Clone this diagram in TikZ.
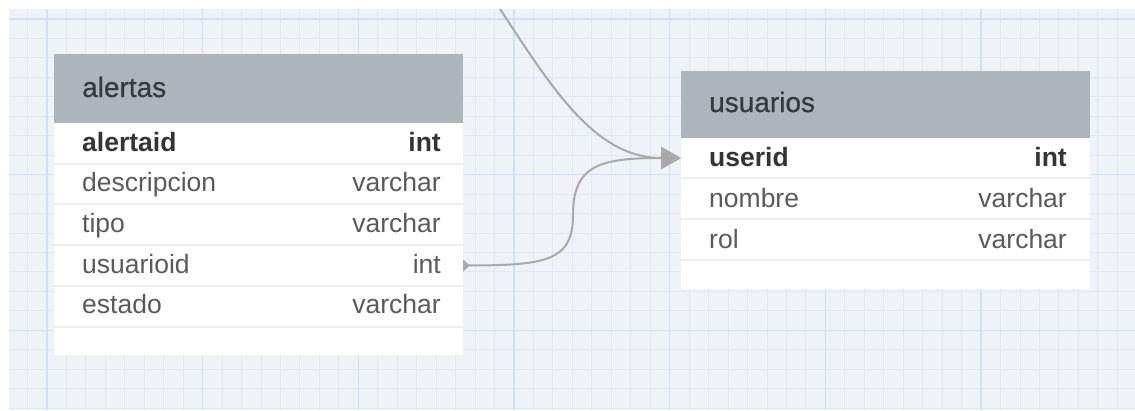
\documentclass[tikz,border=0pt]{standalone}
\usepackage{fontspec}
\setmainfont{Liberation Sans}
\newfontface\hdrface{Liberation Sans}[FakeBold=0.7]
\usetikzlibrary{arrows.meta}
\definecolor{bggrid}{HTML}{EFF2F6}
\definecolor{minorline}{HTML}{E2E8F1}
\definecolor{majorline}{HTML}{D3DFF2}
\definecolor{hdrgray}{HTML}{ADB4BB}
\definecolor{hdrtext}{HTML}{343A40}
\definecolor{boldtext}{HTML}{343434}
\definecolor{regtext}{HTML}{5A5A5A}
\definecolor{sepgray}{HTML}{ECEEF0}
\definecolor{linkgray}{HTML}{A9A9A9}
\tikzset{
  hdrbox/.style={fill=hdrgray, minimum width=409pt, inner sep=0pt, outer sep=0pt},
  rowbox/.style={fill=white, minimum width=409pt, inner sep=0pt, outer sep=0pt},
  hdrlabel/.style={anchor=base west, inner sep=0pt, text=hdrtext, font=\hdrface\fontsize{28}{32}\selectfont},
  keyname/.style={anchor=base west, inner sep=0pt, text=boldtext, font=\fontsize{26.5}{30}\selectfont\bfseries},
  keytype/.style={anchor=base east, inner sep=0pt, text=boldtext, font=\fontsize{26.5}{30}\selectfont\bfseries},
  colname/.style={anchor=base west, inner sep=0pt, text=regtext, font=\fontsize{26.5}{30}\selectfont},
  coltype/.style={anchor=base east, inner sep=0pt, text=regtext, font=\fontsize{26.5}{30}\selectfont},
  sepline/.style={draw=sepgray, line width=1.6pt},
  link/.style={draw=linkgray, line width=2pt},
  minorgrid/.style={draw=minorline, line width=1pt},
  majorgrid/.style={draw=majorline, line width=1.3pt},
}
\begin{document}
\begin{tikzpicture}[x=1pt,y=-1pt]
\useasboundingbox (0,0) rectangle (1135,410);
\fill[white] (0,0) rectangle (1135,410);
% grid background
\begin{scope}
\clip (9,9) rectangle (1135,410);
\fill[bggrid] (9,9) rectangle (1135,410);
\foreach \i in {-2,...,56} {
  \pgfmathsetmacro\xx{47+19.46*\i}
  \draw[minorgrid] (\xx,9) -- (\xx,410);
}
\foreach \i in {-1,...,21} {
  \pgfmathsetmacro\yy{19+19.46*\i}
  \draw[minorgrid] (9,\yy) -- (1135,\yy);
}
\foreach \i in {0,...,7} {
  \pgfmathsetmacro\xx{47+155.68*\i}
  \draw[majorgrid] (\xx,9) -- (\xx,410);
}
\foreach \i in {0,...,2} {
  \pgfmathsetmacro\yy{19+155.68*\i}
  \draw[majorgrid] (9,\yy) -- (1135,\yy);
}
\end{scope}

% table alertas
\node[hdrbox, minimum height=69pt] (ah) at (258.5,88.5) {};
\node[rowbox, minimum height=41pt] (a1) at (258.5,143.5) {};
\node[rowbox, minimum height=40pt] (a2) at (258.5,184) {};
\node[rowbox, minimum height=41pt] (a3) at (258.5,224.5) {};
\node[rowbox, minimum height=41pt] (a4) at (258.5,265.5) {};
\node[rowbox, minimum height=41pt] (a5) at (258.5,306.5) {};
\node[rowbox, minimum height=28pt] (a6) at (258.5,341) {};
\foreach \r in {a2,a3,a4,a5,a6} {\draw[sepline] (\r.north west) -- (\r.north east);}
\node[hdrlabel] (aht) at (82,97) {alertas};
\node[keyname] (a1n) at (82,151) {alertaid};
\node[keytype] (a1t) at (441,151) {int};
\node[colname] (a2n) at (82,191) {descripcion};
\node[coltype] (a2t) at (441,191) {varchar};
\node[colname] (a3n) at (82,232) {tipo};
\node[coltype] (a3t) at (441,232) {varchar};
\node[colname] (a4n) at (82,273) {usuarioid};
\node[coltype] (a4t) at (441,273) {int};
\node[colname] (a5n) at (82,313) {estado};
\node[coltype] (a5t) at (441,313) {varchar};

% table usuarios
\node[hdrbox, minimum height=67pt] (uh) at (885.5,104.5) {};
\node[rowbox, minimum height=40pt] (u1) at (885.5,158) {};
\node[rowbox, minimum height=41pt] (u2) at (885.5,198.5) {};
\node[rowbox, minimum height=41pt] (u3) at (885.5,239.5) {};
\node[rowbox, minimum height=29pt] (u4) at (885.5,274.5) {};
\foreach \r in {u2,u3,u4} {\draw[sepline] (\r.north west) -- (\r.north east);}
\node[hdrlabel] (uht) at (709,112) {usuarios};
\node[keyname] (u1n) at (709,166) {userid};
\node[keytype] (u1t) at (1067,166) {int};
\node[colname] (u2n) at (709,207) {nombre};
\node[coltype] (u2t) at (1067,207) {varchar};
\node[colname] (u3n) at (709,248) {rol};
\node[coltype] (u3t) at (1067,248) {varchar};

% connectors
\coordinate (topin) at (500,9);
\coordinate (mid2) at (573,215);
\draw[link, -{Triangle[length=20pt,width=22pt,fill=linkgray]}]
  (topin) .. controls (552,88) and (595,158) .. (u1.west);
\draw[link, -{Triangle[length=20pt,width=22pt,fill=linkgray]}]
  (a4.east) .. controls +(82,0) and +(0,47) .. (mid2)
            .. controls +(0,-50) and +(-81,0) .. (u1.west);
\fill[linkgray] (a4.east) ++(0,-6) -- ++(7,6) -- ++(-7,6) -- cycle;
\end{tikzpicture}
\end{document}
